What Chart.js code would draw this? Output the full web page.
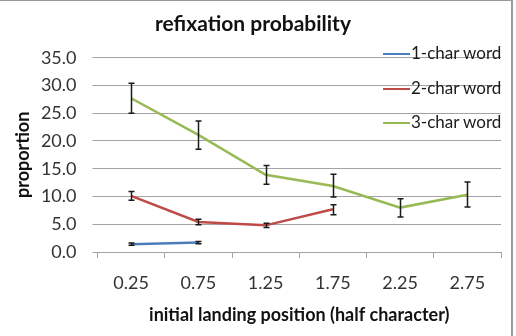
<!DOCTYPE html>
<html>
<head>
<meta charset="utf-8">
<script src="https://cdn.jsdelivr.net/npm/chart.js@4/dist/chart.umd.min.js"></script>
<style>
  html, body { margin: 0; padding: 0; background: #fff; }
  #wrap { position: relative; width: 516px; height: 336px; overflow: hidden; }
  #chart { position: absolute; left: 0; top: 0; }
  #frame { position: absolute; left: -2px; top: 0; width: 513px; height: 340px; border-top: 1px solid #9a9a9a; border-right: 2px solid #9a9a9a; pointer-events: none; }
  .leg { position: absolute; left: 383px; font: 17px Lato, sans-serif; color: #1a1a1a; white-space: nowrap; line-height: 20px; }
  .leg i { display: inline-block; width: 27px; height: 2px; vertical-align: middle; margin-right: 1px; position: relative; top: -1px; }
</style>
</head>
<body>
<div id="wrap">
  <canvas id="chart" width="516" height="336"></canvas>
  <div id="legend"></div>
  <div id="frame"></div>
</div>
<script>
// ---- data ----
const positions = ['0.25', '0.75', '1.25', '1.75', '2.25', '2.75'];
const seriesNames = ['1-char word', '2-char word', '3-char word'];
const seriesColors = ['#4a7ebb', '#be4b48', '#98b954'];

const oneChar   = [1.4, 1.7, null, null, null, null];
const twoChar   = [10.1, 5.4, 4.8, 7.7, null, null];
const threeChar = [27.7, 21.1, 13.9, 11.9, 8.0, 10.3];

// error bar ends (low / high)
const oneCharLow    = [1.2, 1.5, null, null, null, null];
const oneCharHigh   = [1.6, 1.9, null, null, null, null];
const twoCharLow    = [9.3, 4.9, 4.4, 6.7, null, null];
const twoCharHigh   = [10.9, 5.9, 5.2, 8.5, null, null];
const threeCharLow  = [25.0, 18.5, 12.2, 9.9, 6.3, 8.1];
const threeCharHigh = [30.4, 23.6, 15.6, 14.0, 9.6, 12.6];

const yTicks = [0, 5, 10, 15, 20, 25, 30, 35];

const seriesValues = [oneChar, twoChar, threeChar];
const errLows = [oneCharLow, twoCharLow, threeCharLow];
const errHighs = [oneCharHigh, twoCharHigh, threeCharHigh];

// ---- error bars drawn through the scales ----
const errorBars = {
  id: 'errorBars',
  afterDatasetsDraw(chart) {
    const { ctx, scales: { x, y } } = chart;
    ctx.save();
    ctx.strokeStyle = '#1a1a1a';
    ctx.lineWidth = 1.5;
    errLows.forEach((lows, s) => {
      lows.forEach((lo, i) => {
        const hi = errHighs[s][i];
        if (lo == null || hi == null) return;
        const px = Math.round(x.getPixelForValue(i)) + 0.5;
        const yl = y.getPixelForValue(lo);
        const yh = y.getPixelForValue(hi);
        ctx.beginPath();
        ctx.moveTo(px, yl); ctx.lineTo(px, yh);
        ctx.moveTo(px - 3, yl); ctx.lineTo(px + 3, yl);
        ctx.moveTo(px - 3, yh); ctx.lineTo(px + 3, yh);
        ctx.stroke();
      });
    });
    ctx.restore();
  }
};

// ---- legend overlapping the plot, like the original ----
const legendEl = document.getElementById('legend');
const legendTops = [43, 78, 112];
seriesNames.forEach((name, i) => {
  const d = document.createElement('div');
  d.className = 'leg';
  d.style.top = legendTops[i] + 'px';
  const sw = document.createElement('i');
  sw.style.background = seriesColors[i];
  d.appendChild(sw);
  d.appendChild(document.createTextNode(name));
  legendEl.appendChild(d);
});

const GRID = '#a3a3a3';

new Chart(document.getElementById('chart'), {
  type: 'line',
  data: {
    labels: positions,
    datasets: seriesNames.map((name, i) => ({
      label: name,
      data: seriesValues[i],
      borderColor: seriesColors[i],
      backgroundColor: seriesColors[i],
      borderWidth: 2.5,
      pointRadius: 0,
      tension: 0,
      spanGaps: false
    }))
  },
  options: {
    responsive: false,
    animation: false,
    layout: { padding: { left: 5, right: 15, top: 0, bottom: 0 } },
    plugins: {
      legend: { display: false },
      tooltip: { enabled: false },
      title: {
        display: true,
        text: 'refixation probability',
        color: '#111',
        font: { family: 'Lato', size: 21, weight: 'bold' },
        padding: { top: 12, bottom: 20.5 }
      }
    },
    scales: {
      x: {
        offset: true,
        afterFit(scale) { scale.height = 84; },
        grid: { offset: true, drawOnChartArea: false, drawTicks: true, tickLength: 6, color: GRID },
        border: { display: true, color: GRID },
        ticks: { color: '#333', font: { family: 'Lato', size: 18 }, padding: 14, maxRotation: 0 },
        title: {
          display: true,
          text: 'initial landing position (half character)',
          color: '#111',
          font: { family: 'Lato', size: 18, weight: 'bold' },
          padding: { top: 0, bottom: 10 }
        }
      },
      y: {
        min: 0,
        max: 35,
        afterFit(scale) { scale.width = 92.5; },
        afterBuildTicks(scale) { scale.ticks = yTicks.map(v => ({ value: v })); },
        grid: { color: GRID, tickLength: 5 },
        border: { display: false },
        ticks: {
          color: '#333',
          font: { family: 'Lato', size: 18 },
          padding: 16,
          callback: v => v.toFixed(1)
        },
        title: {
          display: true,
          text: 'proportion',
          color: '#111',
          font: { family: 'Lato', size: 18, weight: 'bold' },
          padding: { top: 7, bottom: 0 }
        }
      }
    }
  },
  plugins: [errorBars]
});
</script>
</body>
</html>
